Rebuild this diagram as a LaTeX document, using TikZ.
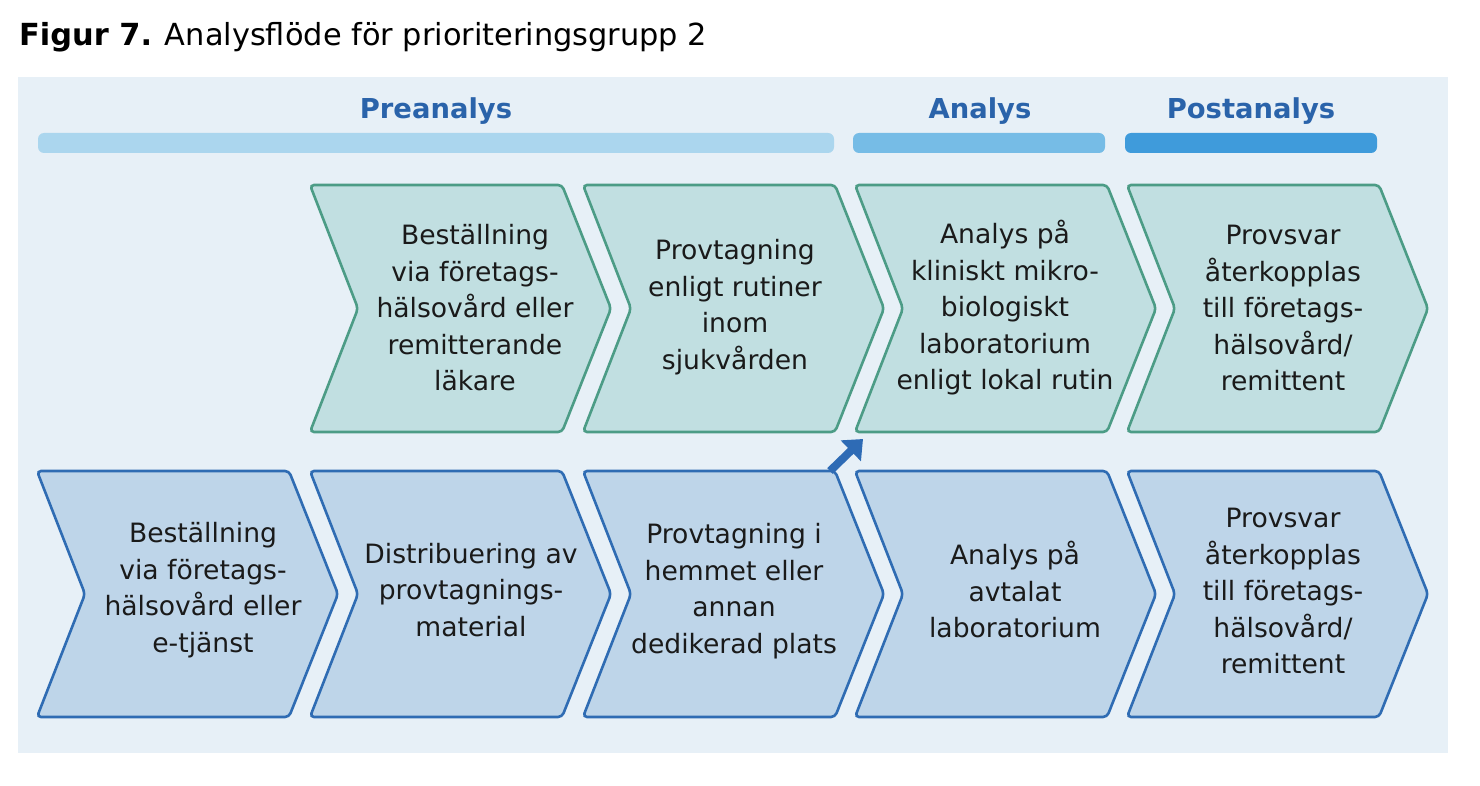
\documentclass[tikz,border=0pt]{standalone}
\usepackage{fontspec}
\setmainfont{DejaVu Sans}
\usetikzlibrary{arrows.meta}
\definecolor{panelbg}{HTML}{E7F0F7}
\definecolor{headtxt}{HTML}{2A63AA}
\definecolor{barpre}{HTML}{ABD6EE}
\definecolor{barana}{HTML}{76BCE6}
\definecolor{barpost}{HTML}{3F9BDB}
\definecolor{greenfill}{HTML}{C1DFE1}
\definecolor{greenline}{HTML}{4C9C86}
\definecolor{bluefill}{HTML}{BED5E9}
\definecolor{blueline}{HTML}{2F6CB3}
\definecolor{arrowblue}{HTML}{2E6BB5}
\definecolor{bodytxt}{HTML}{1A1A1A}
\newcommand\mkchev[4]{%
  \draw[#1,rounded corners=4pt] (#2,#3) -- ({#2+252},#3) -- ({#2+301},{(#3+#4)/2}) -- ({#2+252},#4) -- (#2,#4) -- ({#2+48},{(#3+#4)/2}) -- cycle;}
\begin{document}
\begin{tikzpicture}[x=1pt,y=-1pt,
  greenchev/.style={fill=greenfill,draw=greenline,line width=2.6pt},
  bluechev/.style={fill=bluefill,draw=blueline,line width=2.6pt},
  steptext/.style={align=center,text=bodytxt,inner sep=0pt,font=\fontsize{26.6}{36.5}\selectfont},
  headtext/.style={anchor=base,text=headtxt,inner sep=0pt,font=\fontsize{27.4}{30}\selectfont\bfseries},
  phasebar/.style={rounded corners=6pt}]
\useasboundingbox (0,0) rectangle (1480,786);
\fill[white] (0,0) rectangle (1480,786);
% title
\node[anchor=base west,inner sep=0pt,text=black,font=\fontsize{30.4}{34}\selectfont] (title) at (19,46) {\textbf{Figur 7.} Analysflöde för prioriteringsgrupp 2};
% panel
\fill[panelbg] (18,77) rectangle (1448,753);
% phase headers
\node[headtext] (hpre) at (436,119) {Preanalys};
\node[headtext] (hana) at (980,119) {Analys};
\node[headtext] (hpost) at (1251,119) {Postanalys};
\fill[barpre,phasebar] (38,133) rectangle (834,153);
\fill[barana,phasebar] (853,133) rectangle (1105,153);
\fill[barpost,phasebar] (1125,133) rectangle (1377,153);
% top row (green)
\mkchev{greenchev}{310}{185}{432}
\mkchev{greenchev}{583}{185}{432}
\mkchev{greenchev}{855}{185}{432}
\mkchev{greenchev}{1127}{185}{432}
% bottom row (blue)
\mkchev{bluechev}{37}{471}{717}
\mkchev{bluechev}{310}{471}{717}
\mkchev{bluechev}{583}{471}{717}
\mkchev{bluechev}{855}{471}{717}
\mkchev{bluechev}{1127}{471}{717}
% texts top
\node[steptext] (t2) at (475,308) {Beställning\\via företags-\\hälsovård eller\\remitterande\\läkare};
\node[steptext] (t3) at (735,307) {Provtagning\\enligt rutiner\\inom\\sjukvården};
\node[steptext] (t4) at (1005,308) {Analys på\\kliniskt mikro-\\biologiskt\\laboratorium\\enligt lokal rutin};
\node[steptext] (t5) at (1283,308) {Provsvar\\återkopplas\\till företags-\\hälsovård/\\remittent};
% texts bottom
\node[steptext] (b1) at (203,590) {Beställning\\via företags-\\hälsovård eller\\e-tjänst};
\node[steptext] (b2) at (471,590) {Distribuering av\\provtagnings-\\material};
\node[steptext] (b3) at (734,591) {Provtagning i\\hemmet eller\\annan\\dedikerad plats};
\node[steptext] (b4) at (1015,590) {Analys på\\avtalat\\laboratorium};
\node[steptext] (b5) at (1283,591) {Provsvar\\återkopplas\\till företags-\\hälsovård/\\remittent};
% arrow between rows
\coordinate (arrtail) at (830,471);
\coordinate (arrhead) at (863,439);
\draw[arrowblue,line width=8pt,-{Triangle[length=17pt,width=28pt]}] (arrtail) -- (arrhead);
\end{tikzpicture}
\end{document}
